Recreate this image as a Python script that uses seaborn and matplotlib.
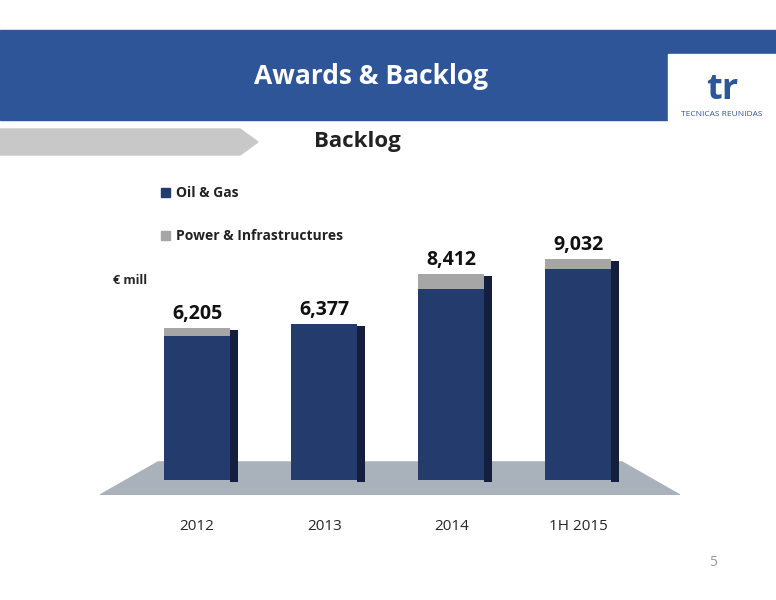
import matplotlib
matplotlib.use("Agg")
import matplotlib.pyplot as plt
import seaborn as sns
import pandas as pd
from matplotlib.patches import Polygon, Rectangle

sns.set_style("white")
plt.rcParams['font.family'] = ['Open Sans', 'DejaVu Sans']

# data
years = ['2012', '2013', '2014', '1H 2015']
oil_gas = [5875, 6377, 7800, 8620]
power = [330, 0, 612, 412]
totals = ['6,205', '6,377', '8,412', '9,032']

navy = '#243b6e'
side = '#141f3d'
grey = '#a6a6a6'

df = pd.DataFrame({'year': years, 'oil': oil_gas,
                   'total': [o + p for o, p in zip(oil_gas, power)]})

fig = plt.figure(figsize=(7.76, 6), dpi=100)

# slide decoration
fig.patches.append(Rectangle((0, 480/600), 1, 90/600, transform=fig.transFigure,
                             color='#2e5597', zorder=0))
fig.patches.append(Polygon([(0, 445/600), (240/776, 445/600), (258/776, 458/600),
                            (240/776, 471/600), (0, 471/600)], closed=True,
                           transform=fig.transFigure, color='#c8c8c8', zorder=0))
fig.patches.append(Rectangle((668/776, 476/600), 108/776, 70/600, transform=fig.transFigure,
                             color='white', zorder=1))
fig.text(371/776, 523/600, 'Awards & Backlog', color='white', fontsize=19,
         fontweight='bold', ha='center', va='center')
fig.text(722/776, 510/600, 'tr', color='#2e5597', fontsize=26, fontweight='bold',
         ha='center', va='center', zorder=2)
fig.text(722/776, 485/600, 'TECNICAS REUNIDAS', color='#2e5597', fontsize=6,
         ha='center', va='center', zorder=2)
fig.text(357/776, 458/600, 'Backlog', color='#222222', fontsize=16,
         fontweight='bold', ha='center', va='center')
fig.text(713/776, 38/600, '5', color='#999999', fontsize=10, ha='center', va='center')

# legend
for y, lab, c in [(407, 'Oil & Gas', navy), (364, 'Power & Infrastructures', grey)]:
    fig.patches.append(Rectangle((161/776, (y - 4)/600), 9/776, 9/600,
                                 transform=fig.transFigure, color=c))
    fig.text(176/776, y/600, lab, fontsize=10, fontweight='bold', va='center',
             color='#222222')
fig.text(113/776, 320/600, '€ mill', fontsize=9, fontweight='bold', va='center')

ax = fig.add_axes([100/776, 105/600, 580/776, 295/600])

# floor
ax.add_patch(Polygon([(0, 0), (1, 0), (0.9, 0.112), (0.1, 0.112)], closed=True,
                     transform=ax.transAxes, color='#a9b1bb', zorder=0))

w = 0.52
pos = range(len(years))
# side faces
ax.bar([p + w/2 + 0.03 for p in pos], df['total'], width=0.06, bottom=-100,
       color=side, linewidth=0, zorder=1)
sns.barplot(data=df, x='year', y='total', color=grey, width=w, saturation=1,
            linewidth=0, ax=ax, zorder=2)
sns.barplot(data=df, x='year', y='oil', color=navy, width=w, saturation=1,
            linewidth=0, ax=ax, zorder=3)
ax.set_xlim(-0.764, 3.80)
ax.set_ylim(-612, 11428)
ax.axis('off')

for p, t, lab in zip(pos, df['total'], totals):
    ax.text(p, t + 150, lab, ha='center', va='bottom', fontsize=14, fontweight='bold',
            color='#111111')
    ax.text(p, -1900, years[p], ha='center', va='center', fontsize=11, clip_on=False)

fig.savefig('out.png', dpi=100)
